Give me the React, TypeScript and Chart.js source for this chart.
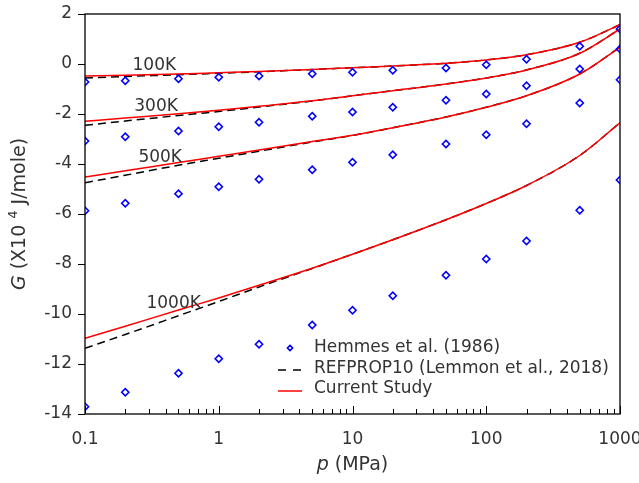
import React, { useEffect, useRef } from 'react';
import { Chart, registerables } from 'chart.js';

Chart.register(...registerables);

// Pressure (MPa)
const P_HEMMES = [0.1, 0.2, 0.5, 1, 2, 5, 10, 20, 50, 100, 200, 500, 1000];
const P_CURVE = [0.1, 0.2, 0.5, 1, 2, 5, 10, 20, 50, 100, 200, 500, 1000];

// Hemmes et al. (1986), G (x10^4 J/mole)
const HEMMES_100K = [-0.72, -0.67, -0.59, -0.53, -0.48, -0.39, -0.33, -0.25, -0.16, -0.03, 0.19, 0.71, 1.4];
const HEMMES_300K = [-3.08, -2.91, -2.68, -2.51, -2.33, -2.09, -1.92, -1.73, -1.45, -1.2, -0.87, -0.2, 0.6];
const HEMMES_500K = [-5.87, -5.57, -5.19, -4.91, -4.61, -4.23, -3.93, -3.63, -3.2, -2.83, -2.39, -1.56, -0.63];
const HEMMES_1000K = [-13.71, -13.13, -12.37, -11.79, -11.21, -10.44, -9.85, -9.27, -8.45, -7.8, -7.08, -5.85, -4.64];

// Current Study
const STUDY_100K = [-0.48, -0.45, -0.4, -0.35, -0.3, -0.22, -0.15, -0.08, 0.03, 0.16, 0.37, 0.87, 1.57];
const STUDY_300K = [-2.29, -2.16, -1.99, -1.85, -1.69, -1.47, -1.27, -1.07, -0.8, -0.56, -0.24, 0.43, 1.4];
const STUDY_500K = [-4.52, -4.27, -3.94, -3.69, -3.44, -3.1, -2.85, -2.55, -2.12, -1.73, -1.27, -0.4, 0.67];
const STUDY_1000K = [-10.97, -10.49, -9.84, -9.36, -8.85, -8.17, -7.61, -7.03, -6.23, -5.58, -4.86, -3.66, -2.35];

// REFPROP10 (Lemmon et al., 2018)
const REFPROP_100K = [-0.56, -0.5, -0.43, -0.37, -0.31, -0.22, -0.15, -0.08, 0.03, 0.16, 0.37, 0.87, 1.57];
const REFPROP_300K = [-2.45, -2.28, -2.06, -1.9, -1.72, -1.48, -1.27, -1.07, -0.8, -0.56, -0.24, 0.43, 1.4];
const REFPROP_500K = [-4.75, -4.45, -4.05, -3.77, -3.49, -3.12, -2.86, -2.55, -2.12, -1.73, -1.27, -0.4, 0.67];
const REFPROP_1000K = [-11.37, -10.82, -10.07, -9.5, -8.92, -8.18, -7.61, -7.03, -6.23, -5.58, -4.86, -3.66, -2.35];

const X_TICKS = [0.1, 1, 10, 100, 1000];
const Y_MIN = -14;
const Y_MAX = 2;

// Temperature labels anchored in data coordinates (p, G)
const TEMP_LABELS = ['100K', '300K', '500K', '1000K'];
const TEMP_LABEL_P = [0.33, 0.34, 0.365, 0.46];
const TEMP_LABEL_G = [-0.05, -1.72, -3.76, -9.6];

const LEGEND_TEXT = ['Hemmes et al. (1986)', 'REFPROP10 (Lemmon et al., 2018)', 'Current Study'];

const FONT = 'DejaVu Sans';
const TEXT_COLOR = '#333333';

const pts = (xs: number[], ys: number[]) => xs.map((x, i) => ({ x, y: ys[i] }));

const decorPlugin = {
  id: 'decor',
  afterDraw(chart: any) {
    const { ctx, chartArea: a, scales } = chart;
    const xs = scales.x;
    const ys = scales.y;
    ctx.save();

    // frame
    ctx.strokeStyle = '#000';
    ctx.lineWidth = 1.3;
    ctx.strokeRect(a.left, a.top, a.right - a.left, a.bottom - a.top);

    // inward x ticks (major + minor)
    ctx.lineWidth = 1;
    ctx.beginPath();
    for (let d = -1; d <= 3; d++) {
      for (let m = 1; m <= 9; m++) {
        const v = m * Math.pow(10, d);
        if (v > 1000.0001) break;
        const px = Math.round(xs.getPixelForValue(v)) + 0.5;
        const len = m === 1 ? 8 : 5;
        ctx.moveTo(px, a.bottom);
        ctx.lineTo(px, a.bottom - len);
      }
    }
    ctx.stroke();

    // temperature labels
    ctx.fillStyle = TEXT_COLOR;
    ctx.font = `17px "${FONT}"`;
    ctx.textAlign = 'center';
    ctx.textBaseline = 'middle';
    TEMP_LABELS.forEach((t, i) => {
      ctx.fillText(t, xs.getPixelForValue(TEMP_LABEL_P[i]), ys.getPixelForValue(TEMP_LABEL_G[i]));
    });

    // legend
    const lx = 278;
    const tx = 314;
    const rows = [348, 369, 389];
    ctx.textAlign = 'left';
    ctx.font = `17px "${FONT}"`;
    ctx.strokeStyle = '#0000ff';
    ctx.lineWidth = 1.6;
    ctx.beginPath();
    const cx = 290, cy = rows[0], r = 2.6;
    ctx.moveTo(cx, cy - r);
    ctx.lineTo(cx + r, cy);
    ctx.lineTo(cx, cy + r);
    ctx.lineTo(cx - r, cy);
    ctx.closePath();
    ctx.stroke();
    ctx.strokeStyle = '#000';
    ctx.lineWidth = 1.5;
    ctx.setLineDash([8, 7]);
    ctx.beginPath();
    ctx.moveTo(lx, rows[1] + 1);
    ctx.lineTo(lx + 24, rows[1] + 1);
    ctx.stroke();
    ctx.setLineDash([]);
    ctx.strokeStyle = '#ff0000';
    ctx.beginPath();
    ctx.moveTo(lx, rows[2] + 2);
    ctx.lineTo(lx + 24, rows[2] + 2);
    ctx.stroke();
    ctx.fillStyle = TEXT_COLOR;
    LEGEND_TEXT.forEach((t, i) => ctx.fillText(t, tx, rows[i]));

    // x title
    const xTitleY = 465;
    const xc = (a.left + a.right) / 2;
    ctx.font = `italic 19px "${FONT}"`;
    const wp = ctx.measureText('p').width;
    ctx.font = `19px "${FONT}"`;
    const wr = ctx.measureText(' (MPa)').width;
    const x0 = xc - (wp + wr) / 2;
    ctx.font = `italic 19px "${FONT}"`;
    ctx.fillText('p', x0, xTitleY);
    ctx.font = `19px "${FONT}"`;
    ctx.fillText(' (MPa)', x0 + wp, xTitleY);

    // y title
    ctx.translate(20, (a.top + a.bottom) / 2);
    ctx.rotate(-Math.PI / 2);
    const segs = [
      { t: 'G', f: `italic 19px "${FONT}"`, dy: 0 },
      { t: ' (X10 ', f: `19px "${FONT}"`, dy: 0 },
      { t: '4', f: `13px "${FONT}"`, dy: -6 },
      { t: ' J/mole)', f: `19px "${FONT}"`, dy: 0 },
    ];
    let total = 0;
    const widths = segs.map((s) => {
      ctx.font = s.f;
      const w = ctx.measureText(s.t).width;
      total += w;
      return w;
    });
    let sx = -total / 2;
    segs.forEach((s, i) => {
      ctx.font = s.f;
      ctx.fillText(s.t, sx, s.dy);
      sx += widths[i];
    });

    ctx.restore();
  },
};

export default function App() {
  const ref = useRef<HTMLCanvasElement | null>(null);

  useEffect(() => {
    document.body.style.margin = '0';
    const canvas = ref.current;
    if (!canvas) return;

    const lineDs = (label: string, ys: number[], color: string, dashed: boolean) => ({
      label,
      data: pts(P_CURVE, ys),
      showLine: true,
      borderColor: color,
      backgroundColor: color,
      borderWidth: 1.5,
      borderDash: dashed ? [8, 5] : [],
      pointRadius: 0,
      cubicInterpolationMode: 'monotone' as const,
      fill: false,
    });
    const ptDs = (label: string, ys: number[]) => ({
      label,
      data: pts(P_HEMMES, ys),
      showLine: false,
      pointStyle: 'rectRot',
      pointRadius: 3.6,
      pointBorderWidth: 1.6,
      pointBorderColor: '#0000ff',
      pointBackgroundColor: 'rgba(255,255,255,0)',
      borderColor: '#0000ff',
    });

    const chart = new Chart(canvas, {
      type: 'scatter',
      data: {
        datasets: [
          ptDs('Hemmes 100K', HEMMES_100K),
          ptDs('Hemmes 300K', HEMMES_300K),
          ptDs('Hemmes 500K', HEMMES_500K),
          ptDs('Hemmes 1000K', HEMMES_1000K),
          lineDs('Study 100K', STUDY_100K, '#ff0000', false),
          lineDs('Study 300K', STUDY_300K, '#ff0000', false),
          lineDs('Study 500K', STUDY_500K, '#ff0000', false),
          lineDs('Study 1000K', STUDY_1000K, '#ff0000', false),
          lineDs('REFPROP 100K', REFPROP_100K, '#000000', true),
          lineDs('REFPROP 300K', REFPROP_300K, '#000000', true),
          lineDs('REFPROP 500K', REFPROP_500K, '#000000', true),
          lineDs('REFPROP 1000K', REFPROP_1000K, '#000000', true),
        ] as any,
      },
      options: {
        animation: false,
        responsive: false,
        devicePixelRatio: 1,
        layout: { padding: { top: 14, right: 19, left: 0, bottom: 0 } },
        plugins: {
          legend: { display: false },
          tooltip: { enabled: false },
        },
        scales: {
          x: {
            type: 'logarithmic',
            min: 0.1,
            max: 1000,
            border: { display: false },
            grid: { display: false },
            afterBuildTicks: (scale: any) => {
              scale.ticks = X_TICKS.map((v) => ({ value: v }));
            },
            afterFit: (scale: any) => {
              scale.height = 69;
              scale.paddingLeft = 0;
              scale.paddingRight = 0;
            },
            ticks: {
              autoSkip: false,
              maxRotation: 0,
              padding: 7,
              color: TEXT_COLOR,
              font: { family: FONT, size: 17 },
              callback: (v: any) => String(v),
            },
          },
          y: {
            type: 'linear',
            min: Y_MIN,
            max: Y_MAX,
            border: { display: false },
            grid: {
              display: true,
              drawOnChartArea: false,
              drawTicks: true,
              tickLength: 7,
              color: '#000',
              lineWidth: 1,
            },
            afterFit: (scale: any) => {
              scale.width = 85;
              scale.paddingTop = 0;
              scale.paddingBottom = 0;
            },
            ticks: {
              stepSize: 2,
              padding: 6,
              color: TEXT_COLOR,
              font: { family: FONT, size: 17 },
            },
          },
        },
      } as any,
      plugins: [decorPlugin],
    });

    return () => chart.destroy();
  }, []);

  return (
    <div style={{ width: 639, height: 483 }}>
      <canvas ref={ref} width={639} height={483} style={{ display: 'block', width: 639, height: 483 }} />
    </div>
  );
}
